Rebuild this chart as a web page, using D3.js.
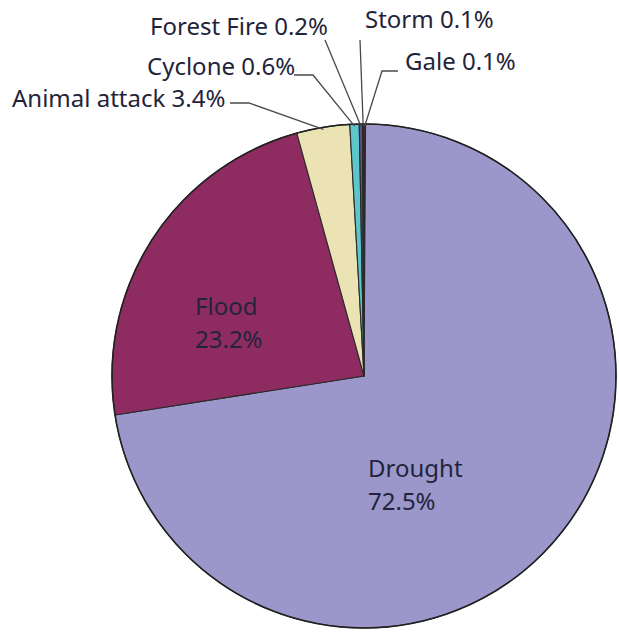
<!DOCTYPE html>
<html>
<head>
<meta charset="utf-8">
<script src="https://cdn.jsdelivr.net/npm/d3@7"></script>
<style>
  html, body { margin: 0; padding: 0; background: #fff; }
  svg { display: block; }
  text { font-family: "Myriad Pro", "Noto Sans", "Open Sans", sans-serif; fill: #23243a; }
</style>
</head>
<body>
<svg id="chart" width="619" height="633"></svg>
<script>
// ---- Data (clockwise from 12 o'clock) ----
const categories = ["Gale", "Drought", "Flood", "Animal attack", "Cyclone", "Forest Fire", "Storm"];
const values     = [0.1, 72.5, 23.2, 3.4, 0.6, 0.2, 0.1];
const labels     = ["Gale 0.1%", "Drought|72.5%", "Flood|23.2%", "Animal attack 3.4%", "Cyclone 0.6%", "Forest Fire 0.2%", "Storm 0.1%"];
const colors     = ["#9a2154", "#9b97ca", "#8e2c62", "#ebe3b3", "#5cc6ca", "#5e5488", "#2b2b3b"];

// ---- Layout ----
const W = 619, H = 633;
const cx = 364, cy = 376, R = 252;
const fontSize = 24;
const lineGap = 33;

const svg = d3.select("#chart");
const g = svg.append("g").attr("transform", `translate(${cx},${cy})`);

const data = categories.map((c, i) => ({ cat: c, value: values[i], label: labels[i], color: colors[i] }));

const pie = d3.pie().sort(null).value(d => d.value);
const arcs = pie(data);
const arc = d3.arc().innerRadius(0).outerRadius(R);

g.selectAll("path.slice")
  .data(arcs)
  .join("path")
  .attr("class", "slice")
  .attr("d", arc)
  .attr("fill", d => d.data.color)
  .attr("stroke", "#2a2a2a")
  .attr("stroke-width", 1.1)
  .attr("stroke-linejoin", "round");

// outer rim
g.append("circle").attr("r", R).attr("fill", "none").attr("stroke", "#222").attr("stroke-width", 1.6);

// ---- Inside labels (offsets relative to centre) ----
const inside = {
  "Drought": { x: 4, y: 101 },
  "Flood":   { x: -169, y: -61 }
};
arcs.filter(a => inside[a.data.cat]).forEach(a => {
  const p = inside[a.data.cat];
  const lines = a.data.label.split("|");
  lines.forEach((ln, i) => {
    g.append("text")
      .attr("x", p.x).attr("y", p.y + i * lineGap)
      .style("font-size", fontSize + "px")
      .text(ln);
  });
});

// ---- Outside labels with leader lines (absolute page coords for text & elbow) ----
const outside = {
  "Animal attack": { tx: 12,  ty: 107, anchor: "start", elbow: [[230, 103], [249, 103]] },
  "Cyclone":       { tx: 147, ty: 75,  anchor: "start", elbow: [[294, 75], [313, 75]] },
  "Forest Fire":   { tx: 150, ty: 35,  anchor: "start", elbow: [[325, 40]] },
  "Storm":         { tx: 365, ty: 28,  anchor: "start", elbow: [[360, 40]] },
  "Gale":          { tx: 405, ty: 70,  anchor: "start", elbow: [[398, 71], [382, 71]] }
};
arcs.filter(a => outside[a.data.cat]).forEach(a => {
  const o = outside[a.data.cat];
  const mid = (a.startAngle + a.endAngle) / 2;
  const edge = [cx + Math.sin(mid) * (R - 2), cy - Math.cos(mid) * (R - 2)];
  const pts = o.elbow.concat([edge]);
  svg.append("path")
    .attr("d", d3.line()(pts))
    .attr("fill", "none")
    .attr("stroke", "#4a4a4a")
    .attr("stroke-width", 1.3);
  svg.append("text")
    .attr("x", o.tx).attr("y", o.ty)
    .attr("text-anchor", o.anchor)
    .style("font-size", fontSize + "px")
    .text(a.data.label);
});
</script>
</body>
</html>
